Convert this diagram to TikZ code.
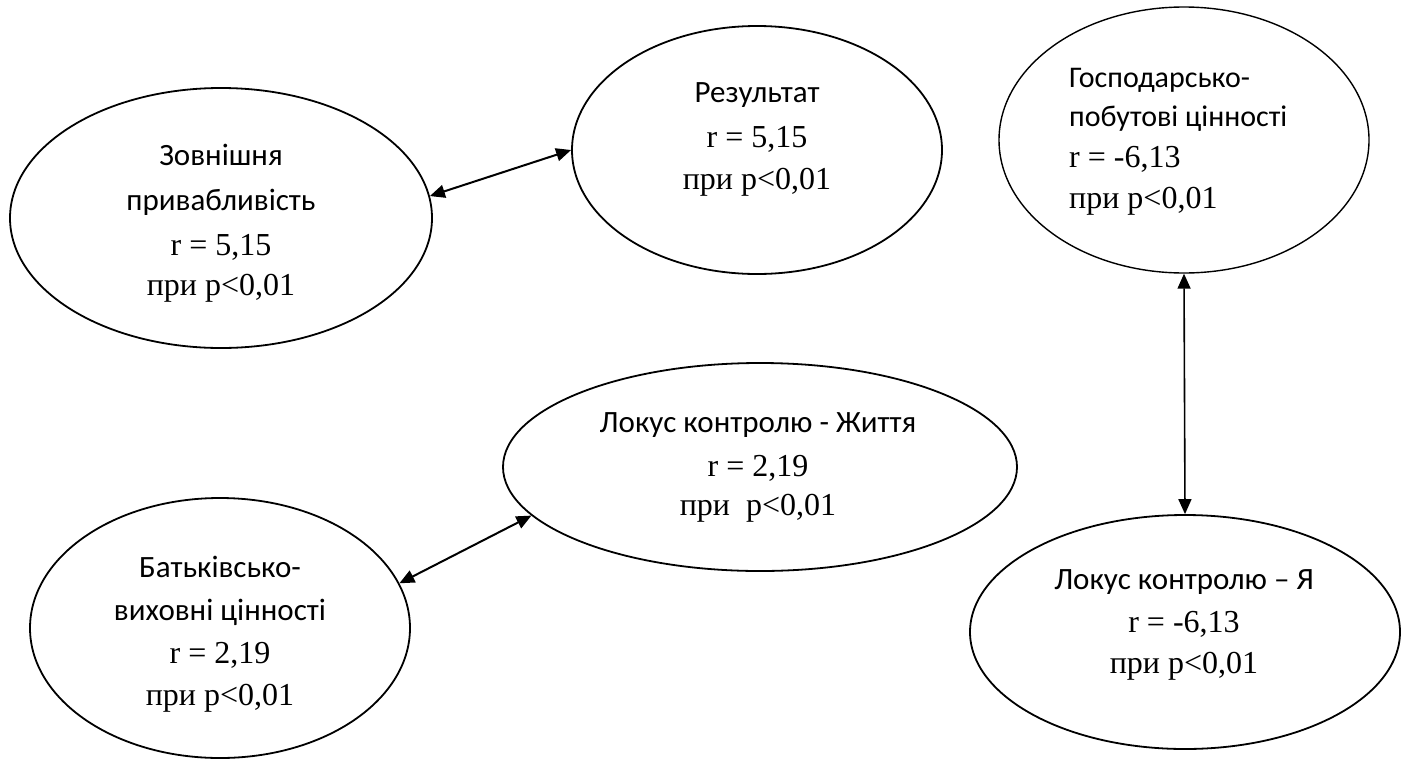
\documentclass[tikz,border=0pt]{standalone}
\usepackage{fontspec}
\setmainfont{Liberation Serif}
\newfontfamily\calfont{Carlito}
\usetikzlibrary{shapes.geometric,arrows.meta}
\tikzset{
  oval/.style={draw=black,line width=1.8pt,ellipse,inner sep=0pt},
  sline/.style={font=\calfont\fontsize{31}{33}\selectfont,anchor=base,inner sep=0pt},
  rline/.style={font=\fontsize{32}{34}\selectfont,anchor=base,inner sep=0pt},
  link/.style={line width=2pt,{Triangle[length=15pt,width=13pt]}-{Triangle[length=15pt,width=13pt]}}
}
\begin{document}
\begin{tikzpicture}[x=1pt,y=-1pt]
\useasboundingbox (0,0) rectangle (1408,758);
% ellipses
\node[oval,minimum width=422pt,minimum height=260pt] (e1) at (221,218) {};
\node[oval,minimum width=370pt,minimum height=248pt] (e2) at (757,150) {};
\node[oval,line width=1.4pt,minimum width=370pt,minimum height=266pt] (e3) at (1184,140) {};
\node[oval,minimum width=514pt,minimum height=208pt] (e4) at (760,467) {};
\node[oval,minimum width=380pt,minimum height=260pt] (e5) at (220,628) {};
\node[oval,minimum width=430pt,minimum height=234pt] (e6) at (1185,632) {};
% texts e1
\node[sline] (t1a) at (221,165) {Зовнішня};
\node[sline] (t1b) at (221,210) {привабливість};
\node[rline] (t1c) at (221,255) {r = 5,15};
\node[rline] (t1d) at (221,295) {при p<0,01};
% texts e2
\node[sline] (t2a) at (757,102) {Результат};
\node[rline] (t2b) at (757,147) {r = 5,15};
\node[rline] (t2c) at (757,189) {при p<0,01};
% texts e3
\node[sline,anchor=base west,font=\calfont\fontsize{30}{32}\selectfont] (t3a) at (1069,87) {Господарсько-};
\node[sline,anchor=base west,font=\calfont\fontsize{30}{32}\selectfont] (t3b) at (1069,126) {побутові цінності};
\node[rline,anchor=base west] (t3c) at (1069,167) {r = -6,13};
\node[rline,anchor=base west] (t3d) at (1069,208) {при p<0,01};
% texts e4
\node[sline] (t4a) at (758,432) {Локус контролю - Життя};
\node[rline] (t4b) at (758,476) {r = 2,19};
\node[rline] (t4c) at (758,515) {при~~p<0,01};
% texts e5
\node[sline] (t5a) at (220,577) {Батьківсько-};
\node[sline] (t5b) at (220,620) {виховні цінності};
\node[rline] (t5c) at (220,663) {r = 2,19};
\node[rline] (t5d) at (220,705) {при p<0,01};
% texts e6
\node[sline] (t6a) at (1184,589) {Локус контролю – Я};
\node[rline] (t6b) at (1184,632) {r = -6,13};
\node[rline] (t6c) at (1184,673) {при p<0,01};
% connectors
\draw[link] (e1.6) -- (e2.180);
\draw[link] (e5.14) -- (e4.192);
\draw[link,line width=1.6pt] (e3.south) -- (e6.north);
\end{tikzpicture}
\end{document}
